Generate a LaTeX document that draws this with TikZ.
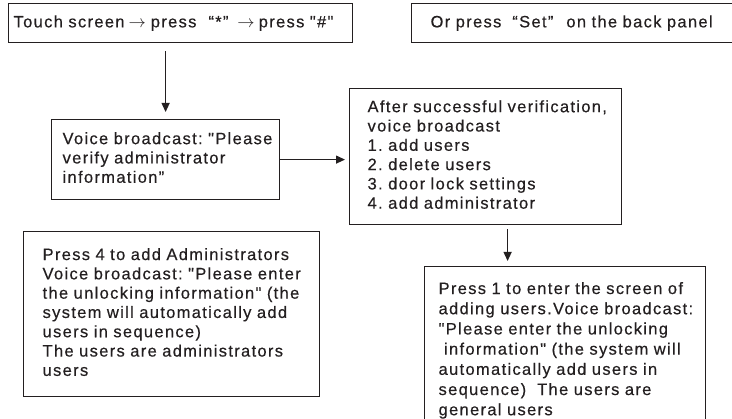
\documentclass[tikz,border=0pt]{standalone}
\usepackage{fontspec}
\setmainfont{Liberation Sans}[LetterSpace=8, Ligatures=TeXOff, FakeBold=0.4]
\usetikzlibrary{arrows.meta}
\definecolor{ink}{HTML}{231F20}

\tikzset{
    box/.style={draw=ink, line width=1.2pt, anchor=north west, align=left,
        text=ink, inner ysep=0pt, font=\fontsize{16.5}{19.3}\selectfont\frenchspacing},
    arr/.style={draw=ink, line width=1.2pt, -{Triangle[length=9pt,width=8pt]}},
}

\begin{document}
\begin{tikzpicture}[x=1pt,y=-1pt]
    \useasboundingbox (0,0) rectangle (732,419);
    % top row
    \node[box, text width=334pt, inner xsep=5pt, minimum height=39pt] (touch) at (8,3)
        {Touch screen\hspace{4pt}$\rightarrow$\hspace{5pt}press\hspace{12pt}“*”\hspace{9pt}$\rightarrow$\hspace{4pt}press "\#"};
    \node[box, text width=322pt, inner xsep=19pt, minimum height=39pt] (back) at (411,3)
        {Or press\hspace{11pt}“Set”\hspace{13pt}on the back panel};
    % middle row
    \node[box, text width=206pt, inner xsep=11pt, minimum height=80pt] (verify) at (51,119)
        {\begin{tabular}{@{}l@{}}Voice broadcast: "Please\\verify administrator\\information”\end{tabular}};
    \node[box, text width=236pt, inner xsep=18pt, minimum height=136pt] (menu) at (349,88)
        {\begin{tabular}{@{}l@{}}After successful verification,\\voice broadcast\\1. add users\\2. delete users\\3. door lock settings\\4. add administrator\end{tabular}};
    % bottom row
    \node[box, text width=258pt, inner xsep=19pt, minimum height=165pt] (admin) at (23,231)
        {\begin{tabular}{@{}l@{}}Press 4 to add Administrators\\Voice broadcast: "Please enter\\the unlocking information" (the\\system will automatically add\\users in sequence)\\The users are administrators\\users\end{tabular}};
    \node[box, text width=253pt, inner xsep=14pt, minimum height=168pt,
        font=\fontsize{16.5}{20.2}\selectfont\frenchspacing] (adduser) at (424,266)
        {\begin{tabular}{@{}l@{}}Press 1 to enter the screen of\\adding users.Voice broadcast:\\"Please enter the unlocking\\\ information" (the system will\\automatically add users in\\sequence)\ \ The users are\\general users\end{tabular}};

    \coordinate (drop) at ([xshift=22pt]menu.south);
    \draw[arr, shorten <=8pt, shorten >=7pt] (verify.north |- touch.south) -- (verify.north);
    \draw[arr, shorten >=4pt] (verify.east) -- (verify.east -| menu.west);
    \draw[arr, shorten <=4pt, shorten >=5pt] (drop) -- (drop |- adduser.north);
\end{tikzpicture}
\end{document}
